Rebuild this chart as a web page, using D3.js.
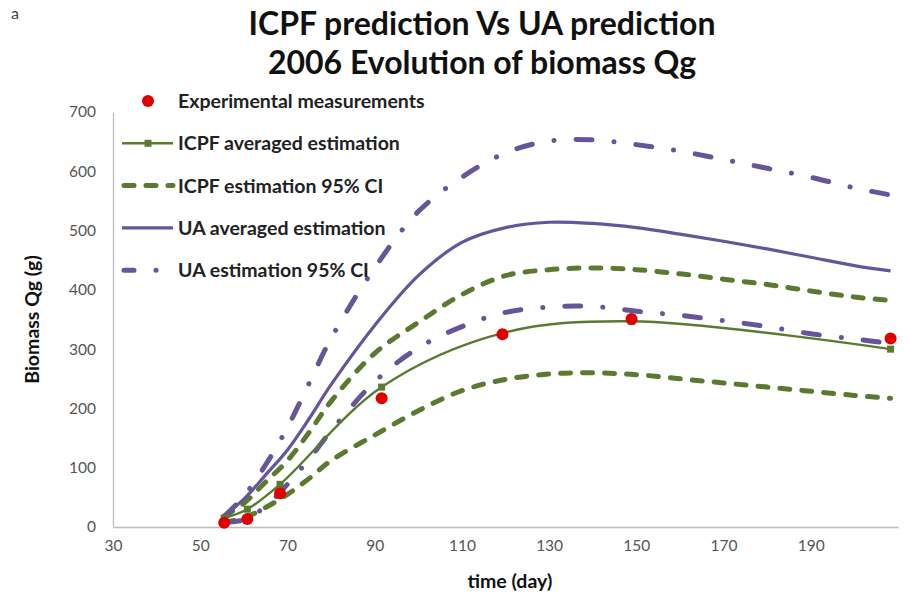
<!DOCTYPE html>
<html>
<head>
<meta charset="utf-8">
<script src="https://cdn.jsdelivr.net/npm/d3@7"></script>
<style>
  html, body { margin: 0; padding: 0; background: #fff; }
  svg { display: block; font-family: Lato, "Open Sans", sans-serif; }
</style>
</head>
<body>
<svg id="chart" width="909" height="596"></svg>
<script>
// Measured biomass (g) on the sampling days
const measDays = [55.5, 60.8, 68.3, 91.6, 119.3, 148.9, 208.3];
const measured = [7, 13.5, 57, 217, 325, 351, 318];

// ICPF averaged estimation, reported on the sampling days
const icpfAvg = [15, 30, 72, 236, 327, 347, 300];

// Model curves sampled along the season
const modelDays = [55.5, 60, 65, 70, 75, 80, 90, 100, 110, 120, 130, 140, 150, 160, 170, 180, 190, 200, 208.3];
const icpfLow  = [8, 15, 33, 55, 82, 112, 155, 196, 230, 249, 258, 260, 257, 250, 243, 236, 229, 222, 217];
const icpfHigh = [18, 40, 76, 112, 160, 212, 293, 345, 392, 424, 434, 437, 434, 427, 418, 409, 398, 388, 382];
const uaAvg    = [20, 47, 88, 130, 183, 240, 340, 424, 480, 505, 514, 512, 505, 494, 482, 469, 455, 441, 432];
const uaLow    = [8, 12, 35, 72, 115, 162, 245, 302, 338, 362, 371, 372, 364, 357, 348, 338, 326, 317, 310];
const uaHigh   = [18, 52, 105, 168, 243, 318, 437, 532, 590, 631, 651, 653, 645, 634, 620, 605, 590, 572, 560];

// Axis ticks
const xTicks = [30, 50, 70, 90, 110, 130, 150, 170, 190];
const yTicks = [0, 100, 200, 300, 400, 500, 600, 700];

const titleLines = ["ICPF prediction Vs UA prediction", "2006 Evolution of biomass Qg"];
const legendLabels = [
  "Experimental measurements",
  "ICPF averaged estimation",
  "ICPF estimation 95% CI",
  "UA averaged estimation",
  "UA estimation 95% CI"
];

const GREEN = "#5b7a30";
const PURPLE = "#66559a";
const RED = "#e00000";

const svg = d3.select("#chart");

const x = d3.scaleLinear().domain([30, 210]).range([113, 898]);
const y = d3.scaleLinear().domain([0, 700]).range([527, 112]);

// panel letter
svg.append("text").attr("x", 11).attr("y", 19)
  .attr("font-size", 16).attr("fill", "#444").text("a");

// title
svg.append("g").selectAll("text").data(titleLines).join("text")
  .attr("x", 482).attr("y", (d, i) => 35 + i * 39)
  .attr("text-anchor", "middle")
  .attr("font-size", 32).attr("font-weight", 700).attr("fill", "#111")
  .text(d => d);

// axes
const xAxis = svg.append("g").attr("transform", `translate(0,${y(0)})`)
  .call(d3.axisBottom(x).tickValues(xTicks).tickSize(0).tickSizeOuter(0).tickPadding(13));
const yAxis = svg.append("g").attr("transform", `translate(${x(30)},0)`)
  .call(d3.axisLeft(y).tickValues(yTicks).tickSize(0).tickSizeOuter(0).tickPadding(17));
[xAxis, yAxis].forEach(g => {
  g.select(".domain").attr("stroke", "#bdbdbd").attr("stroke-width", 1.3);
  g.selectAll(".tick text").attr("font-family", "Lato, sans-serif")
    .attr("font-size", 15.5).attr("fill", "#555");
});

svg.append("text")
  .attr("transform", `translate(39,${y(350)}) rotate(-90)`)
  .attr("text-anchor", "middle").attr("font-size", 19.5).attr("font-weight", 700)
  .attr("fill", "#111").text("Biomass Qg (g)");
svg.append("text")
  .attr("x", x(121)).attr("y", 588)
  .attr("text-anchor", "middle").attr("font-size", 19.5).attr("font-weight", 700)
  .attr("fill", "#111").text("time (day)");

// series lines
const smooth = d3.line().x(d => x(d[0])).y(d => y(d[1])).curve(d3.curveCatmullRom.alpha(0.5));
const pairs = (days, vals) => days.map((d, i) => [d, vals[i]]);

const dashCI = "10,12";
const dashDot = "16,22,0.1,22";

const lines = svg.append("g").attr("fill", "none").attr("stroke-linecap", "round");
lines.append("path").attr("d", smooth(pairs(modelDays, icpfLow)))
  .attr("stroke", GREEN).attr("stroke-width", 5).attr("stroke-dasharray", dashCI);
lines.append("path").attr("d", smooth(pairs(modelDays, icpfHigh)))
  .attr("stroke", GREEN).attr("stroke-width", 5).attr("stroke-dasharray", dashCI);
lines.append("path").attr("d", smooth(pairs(modelDays, uaAvg)))
  .attr("stroke", PURPLE).attr("stroke-width", 3.2).attr("stroke-linecap", "butt");
lines.append("path").attr("d", smooth(pairs(modelDays, uaLow)))
  .attr("stroke", PURPLE).attr("stroke-width", 5).attr("stroke-dasharray", dashDot);
lines.append("path").attr("d", smooth(pairs(modelDays, uaHigh)))
  .attr("stroke", PURPLE).attr("stroke-width", 5).attr("stroke-dasharray", dashDot);
lines.append("path").attr("d", smooth(pairs(measDays, icpfAvg)))
  .attr("stroke", GREEN).attr("stroke-width", 2.4).attr("stroke-linecap", "butt");

// ICPF averaged markers
svg.append("g").selectAll("rect").data(pairs(measDays, icpfAvg)).join("rect")
  .attr("x", d => x(d[0]) - 3.5).attr("y", d => y(d[1]) - 3.5)
  .attr("width", 7).attr("height", 7).attr("fill", GREEN);

// measurements
svg.append("g").selectAll("circle").data(pairs(measDays, measured)).join("circle")
  .attr("cx", d => x(d[0])).attr("cy", d => y(d[1])).attr("r", 6).attr("fill", RED);

// legend
const lg = svg.append("g");
const rowY = i => 101 + i * 42.3;
const sx0 = 122, sx1 = 173;
lg.append("circle").attr("cx", 148).attr("cy", rowY(0)).attr("r", 6).attr("fill", RED);
lg.append("line").attr("x1", sx0).attr("x2", sx1).attr("y1", rowY(1)).attr("y2", rowY(1))
  .attr("stroke", GREEN).attr("stroke-width", 2.6);
lg.append("rect").attr("x", 148 - 3.5).attr("y", rowY(1) - 3.5).attr("width", 7).attr("height", 7).attr("fill", GREEN);
lg.append("line").attr("x1", sx0 + 2).attr("x2", sx1).attr("y1", rowY(2)).attr("y2", rowY(2))
  .attr("stroke", GREEN).attr("stroke-width", 5).attr("stroke-linecap", "round").attr("stroke-dasharray", "10,12");
lg.append("line").attr("x1", sx0).attr("x2", sx1).attr("y1", rowY(3)).attr("y2", rowY(3))
  .attr("stroke", PURPLE).attr("stroke-width", 3.2);
lg.append("line").attr("x1", sx0 + 2).attr("x2", sx1).attr("y1", rowY(4)).attr("y2", rowY(4))
  .attr("stroke", PURPLE).attr("stroke-width", 5).attr("stroke-linecap", "round").attr("stroke-dasharray", "10,22,0.1,40");
lg.selectAll("text").data(legendLabels).join("text")
  .attr("x", 178).attr("y", (d, i) => rowY(i) + 7)
  .attr("font-size", 19.5).attr("font-weight", 700).attr("fill", "#222")
  .text(d => d);
</script>
</body>
</html>
